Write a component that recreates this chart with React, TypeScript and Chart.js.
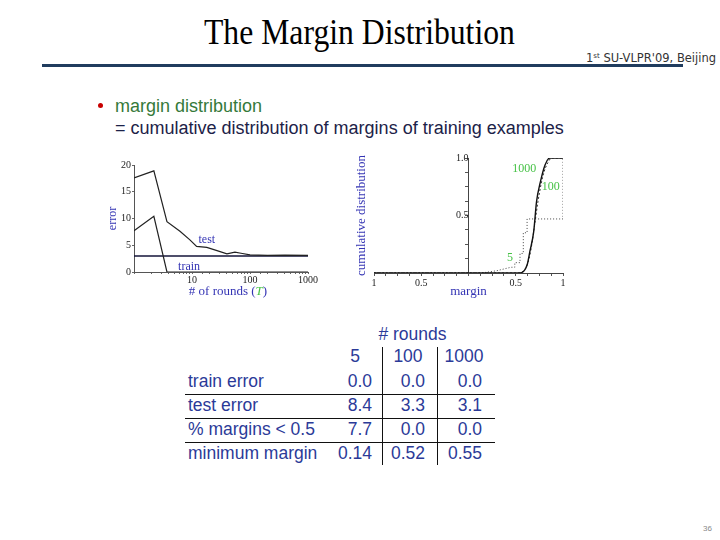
import React, { useEffect, useRef } from "react";
import { Chart, registerables } from "chart.js";

Chart.register(...registerables);

// ---------- left chart: error vs. # of rounds ----------
const testRounds = [1, 2.2, 3.7, 6.2, 9.2, 12, 18, 27, 40, 55, 70, 100, 200, 400, 1000];
const testError = [17.6, 18.9, 9.4, 7.6, 6.0, 4.8, 4.6, 4.0, 3.4, 3.7, 3.5, 3.2, 3.1, 3.15, 3.1];
const trainRounds = [1, 2.2, 3.7, 1000];
const trainError = [7.7, 10.4, 0, 0];
const refRounds = [1, 1000];
const refError = [3.0, 3.0];
const roundTickLabels = [10, 100, 1000];
const errorTickStep = 5;
const leftLabels = [
  { text: "test", x: 18, y: 6.0 },
  { text: "train", x: 8.9, y: 1.0 },
];

// ---------- right chart: cumulative margin distribution ----------
const margin1000 = [-1, 0.54, 0.62, 0.65, 0.69, 0.72, 0.76, 0.81, 0.86, 1.0];
const cum1000 = [0, 0, 0.07, 0.19, 0.36, 0.62, 0.79, 0.94, 1.0, 1.0];
const margin100 = [-1, 0.52, 0.62, 0.66, 0.7, 0.735, 0.77, 0.8, 0.84, 0.88, 1.0];
const cum100 = [0, 0, 0.07, 0.2, 0.42, 0.62, 0.78, 0.88, 0.96, 1.0, 1.0];
const margin5 = [-1, 0.14, 0.3, 0.45, 0.49, 0.49, 0.545, 0.545, 0.58, 0.58, 0.62, 0.62, 1.0, 1.0];
const cum5 = [0, 0, 0.02, 0.05, 0.05, 0.09, 0.09, 0.17, 0.17, 0.35, 0.35, 0.47, 0.47, 1.0];
const marginTickLabels = [-1, -0.5, 0.5, 1];
const cumTickLabels = [0.5, 1.0];
const rightLabels = [
  { text: "1000", x: 0.59, y: 0.91 },
  { text: "100", x: 0.87, y: 0.75 },
  { text: "5", x: 0.44, y: 0.13 },
];

// ---------- table ----------
const roundCols = ["5", "100", "1000"];
const rowLabels = ["train error", "test error", "% margins < 0.5", "minimum margin"];
const trainErrRow = ["0.0", "0.0", "0.0"];
const testErrRow = ["8.4", "3.3", "3.1"];
const marginsRow = ["7.7", "0.0", "0.0"];
const minMarginRow = ["0.14", "0.52", "0.55"];
const tableRows = [trainErrRow, testErrRow, marginsRow, minMarginRow];

const SERIF = "'Liberation Serif', 'Times New Roman', serif";
const SANS = "'Liberation Sans', Arial, sans-serif";
const AXIS_BLUE = "#3434b4";
const LABEL_GREEN = "#46c246";
const TABLE_BLUE = "#2b3a98";

const near = (arr: number[], v: number) => arr.some((t) => Math.abs(t - v) < 1e-6);

function dataLabelsPlugin(items: { text: string; x: number; y: number }[], color: string, size: number) {
  return {
    id: "dataLabels",
    afterDatasetsDraw(chart: any) {
      const ctx = chart.ctx;
      ctx.save();
      ctx.font = `${size}px ${SERIF}`;
      ctx.fillStyle = color;
      ctx.textAlign = "center";
      ctx.textBaseline = "middle";
      for (const it of items) {
        const px = chart.scales.x.getPixelForValue(it.x);
        const py = chart.scales.y.getPixelForValue(it.y);
        ctx.fillText(it.text, px, py);
      }
      ctx.restore();
    },
  };
}

const roundsTitlePlugin = {
  id: "roundsTitle",
  afterDraw(chart: any) {
    const ctx = chart.ctx;
    const area = chart.chartArea;
    const parts = [
      { t: "# of rounds (", c: AXIS_BLUE, f: `13px ${SERIF}` },
      { t: "T", c: LABEL_GREEN, f: `italic 13px ${SERIF}` },
      { t: ")", c: AXIS_BLUE, f: `13px ${SERIF}` },
    ];
    ctx.save();
    let total = 0;
    for (const p of parts) {
      ctx.font = p.f;
      total += ctx.measureText(p.t).width;
    }
    let x = (area.left + area.right) / 2 + 7 - total / 2;
    const y = area.bottom + 20;
    ctx.textBaseline = "middle";
    ctx.textAlign = "left";
    for (const p of parts) {
      ctx.font = p.f;
      ctx.fillStyle = p.c;
      ctx.fillText(p.t, x, y);
      x += ctx.measureText(p.t).width;
    }
    ctx.restore();
  },
};

function ErrorChart() {
  const ref = useRef<HTMLCanvasElement>(null);
  useEffect(() => {
    const chart = new Chart(ref.current!, {
      type: "line",
      data: {
        datasets: [
          {
            data: testRounds.map((x, i) => ({ x, y: testError[i] })),
            borderColor: "#222",
            borderWidth: 1.2,
            pointRadius: 0,
          },
          {
            data: trainRounds.map((x, i) => ({ x, y: trainError[i] })),
            borderColor: "#222",
            borderWidth: 1.2,
            pointRadius: 0,
          },
          {
            data: refRounds.map((x, i) => ({ x, y: refError[i] })),
            borderColor: "#14143a",
            borderWidth: 1.4,
            pointRadius: 0,
          },
        ],
      },
      options: {
        animation: false,
        responsive: false,
        devicePixelRatio: 1,
        layout: { padding: { left: 0, right: 22, top: 15, bottom: 0 } },
        plugins: { legend: { display: false }, tooltip: { enabled: false } },
        scales: {
          x: {
            type: "logarithmic",
            min: 1,
            max: 1000,
            afterFit: (s: any) => {
              s.height = 38;
            },
            border: { display: true, dash: [1, 2], color: "#555" },
            grid: { display: true, drawOnChartArea: false, tickLength: 2, color: "#666" },
            ticks: {
              autoSkip: false,
              maxRotation: 0,
              padding: 0,
              color: "#222",
              font: { family: SERIF, size: 10 },
              callback: (v: any) => (near(roundTickLabels, Number(v)) ? String(Math.round(Number(v))) : ""),
            },
          },
          y: {
            type: "linear",
            min: 0,
            max: 20,
            afterFit: (s: any) => {
              s.width = 34;
            },
            border: { display: true, dash: [1, 2], color: "#555" },
            grid: { display: true, drawOnChartArea: false, tickLength: 2, color: "#666" },
            ticks: {
              stepSize: errorTickStep,
              padding: 1,
              color: "#222",
              font: { family: SERIF, size: 10 },
            },
            title: {
              display: true,
              text: "error",
              color: AXIS_BLUE,
              font: { family: SERIF, size: 12 },
              padding: { top: 6, bottom: 0 },
            },
          },
        },
      },
      plugins: [dataLabelsPlugin(leftLabels, AXIS_BLUE, 12), roundsTitlePlugin],
    } as any);
    return () => chart.destroy();
  }, []);
  return <canvas ref={ref} width={230} height={160} style={{ width: 230, height: 160, display: "block" }} />;
}

function MarginChart() {
  const ref = useRef<HTMLCanvasElement>(null);
  useEffect(() => {
    const chart = new Chart(ref.current!, {
      type: "line",
      data: {
        datasets: [
          {
            data: margin1000.map((x, i) => ({ x, y: cum1000[i] })),
            borderColor: "#111",
            borderWidth: 1.4,
            pointRadius: 0,
            cubicInterpolationMode: "monotone",
            yAxisID: "y",
          },
          {
            data: margin100.map((x, i) => ({ x, y: cum100[i] })),
            borderColor: "#333",
            borderWidth: 1,
            borderDash: [2, 2],
            pointRadius: 0,
            cubicInterpolationMode: "monotone",
            yAxisID: "y",
          },
          {
            data: margin5.map((x, i) => ({ x, y: cum5[i] })),
            borderColor: "#444",
            borderWidth: 1,
            borderDash: [1, 2],
            pointRadius: 0,
            yAxisID: "y",
          },
        ],
      },
      options: {
        animation: false,
        responsive: false,
        devicePixelRatio: 1,
        layout: { padding: { left: 0, right: 17, top: 13, bottom: 0 } },
        plugins: { legend: { display: false }, tooltip: { enabled: false } },
        scales: {
          x: {
            type: "linear",
            min: -1,
            max: 1,
            afterFit: (s: any) => {
              s.height = 32;
            },
            border: { display: true, dash: [1, 2], color: "#444" },
            grid: { display: true, drawOnChartArea: false, tickLength: 3, color: "#555" },
            ticks: {
              stepSize: 0.125,
              autoSkip: false,
              maxRotation: 0,
              padding: 1,
              color: "#222",
              font: { family: SERIF, size: 10 },
              callback: (v: any) => (near(marginTickLabels, Number(v)) ? String(Math.abs(Number(v))) : ""),
            },
            title: {
              display: true,
              text: "margin",
              color: AXIS_BLUE,
              font: { family: SERIF, size: 13 },
              padding: { top: 0, bottom: 6 },
            },
          },
          y: {
            type: "linear",
            min: 0,
            max: 1,
            position: { x: 0 },
            border: { display: true, dash: [1, 2], color: "#444" },
            grid: { display: true, drawOnChartArea: false, tickLength: 3, color: "#555" },
            ticks: {
              stepSize: 0.125,
              autoSkip: false,
              padding: 2,
              color: "#222",
              font: { family: SERIF, size: 10 },
              callback: (v: any) => (near(cumTickLabels, Number(v)) ? Number(v).toFixed(1) : ""),
            },
          },
          yTitle: {
            type: "linear",
            position: "left",
            display: true,
            afterFit: (s: any) => {
              s.width = 24;
            },
            grid: { display: false },
            border: { display: false },
            ticks: { display: false },
            title: {
              display: true,
              text: "cumulative distribution",
              color: AXIS_BLUE,
              font: { family: SERIF, size: 13 },
              padding: { top: 4, bottom: 0 },
            },
          },
        },
      },
      plugins: [dataLabelsPlugin(rightLabels, LABEL_GREEN, 12)],
    } as any);
    return () => chart.destroy();
  }, []);
  return <canvas ref={ref} width={230} height={160} style={{ width: 230, height: 160, display: "block" }} />;
}

const abs = (s: React.CSSProperties): React.CSSProperties => ({ position: "absolute", whiteSpace: "nowrap", ...s });

export default function App() {
  const rowTops = [369.5, 393.5, 417.5, 441.5];
  const colRights = [372, 425, 482];
  const colCenters = [355, 408, 464];
  return (
    <div style={{ position: "absolute", left: 0, top: 0, width: 720, height: 540, background: "#fff", overflow: "hidden" }}>
      {/* header */}
      <div
        style={abs({
          left: 204,
          top: 14,
          fontFamily: SERIF,
          fontSize: 36,
          lineHeight: "36px",
          color: "#000",
          transform: "scaleX(0.88)",
          transformOrigin: "left top",
        })}
      >
        The Margin Distribution
      </div>
      <div style={abs({ left: 586, top: 50, fontFamily: "'DejaVu Sans', sans-serif", fontSize: 11.5, lineHeight: "12px", color: "#333" })}>
        1<sup style={{ fontSize: 7, verticalAlign: "4px" }}>st</sup> SU-VLPR'09, Beijing
      </div>
      <div style={abs({ left: 42, top: 64, width: 641, height: 3, background: "#203c5e" })} />

      {/* bullet text */}
      <div style={abs({ left: 98, top: 103, width: 5, height: 5, borderRadius: "50%", background: "#c80000" })} />
      <div style={abs({ left: 115, top: 96, fontFamily: SANS, fontSize: 18, lineHeight: "20px", color: "#35793a" })}>
        margin distribution
      </div>
      <div style={abs({ left: 115, top: 118, fontFamily: SANS, fontSize: 18, lineHeight: "20px", color: "#1c2248" })}>
        = cumulative distribution of margins of training examples
      </div>

      {/* charts */}
      <div style={abs({ left: 100, top: 150, width: 230, height: 160 })}>
        <ErrorChart />
      </div>
      <div style={abs({ left: 350, top: 145, width: 230, height: 160 })}>
        <MarginChart />
      </div>

      {/* table */}
      <div style={abs({ left: 330, top: 323, width: 165, textAlign: "center", fontFamily: SANS, fontSize: 17.5, lineHeight: "22px", color: TABLE_BLUE })}>
        # rounds
      </div>
      {roundCols.map((c, i) => (
        <div
          key={"h" + i}
          style={abs({ left: colCenters[i] - 30, width: 60, top: 345, textAlign: "center", fontFamily: SANS, fontSize: 17.5, lineHeight: "22px", color: TABLE_BLUE })}
        >
          {c}
        </div>
      ))}
      {rowLabels.map((r, i) => (
        <div key={"r" + i} style={abs({ left: 188, top: rowTops[i], fontFamily: SANS, fontSize: 17.5, lineHeight: "22px", color: TABLE_BLUE })}>
          {r}
        </div>
      ))}
      {tableRows.map((row, i) =>
        row.map((v, j) => (
          <div
            key={"c" + i + "-" + j}
            style={abs({ left: colRights[j] - 60, width: 60, top: rowTops[i], textAlign: "right", fontFamily: SANS, fontSize: 17.5, lineHeight: "22px", color: TABLE_BLUE })}
          >
            {v}
          </div>
        ))
      )}
      {rowTops.slice(1).map((t, i) => (
        <div key={"hl" + i} style={abs({ left: 185, top: t, width: 310, height: 1.3, background: "#111" })} />
      ))}
      <div style={abs({ left: 382, top: 346.5, width: 1.3, height: 118.5, background: "#111" })} />
      <div style={abs({ left: 436.5, top: 346.5, width: 1.3, height: 118.5, background: "#111" })} />

      {/* page number */}
      <div style={abs({ left: 703, top: 524, fontFamily: SANS, fontSize: 8, lineHeight: "10px", color: "#888" })}>36</div>
    </div>
  );
}
